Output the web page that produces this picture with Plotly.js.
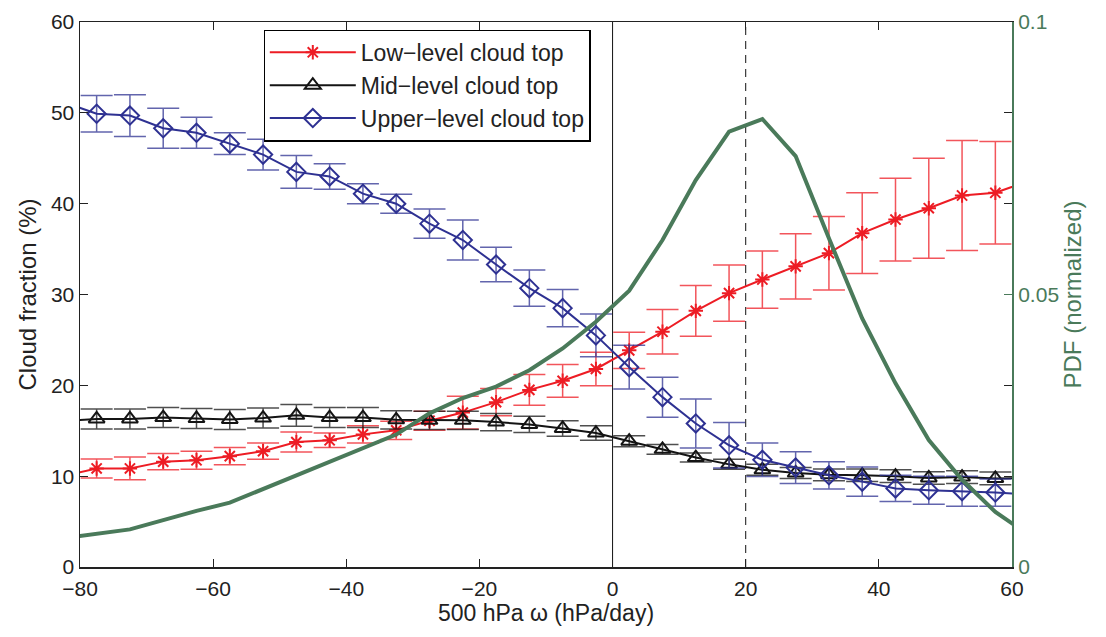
<!DOCTYPE html>
<html>
<head>
<meta charset="utf-8">
<script src="https://cdn.plot.ly/plotly-3.0.1.min.js"></script>
<style>html,body{margin:0;padding:0;background:#fff;}#chart{width:1106px;height:637px;}</style>
</head>
<body>
<div id="chart"></div>
<script>
// omega bins (hPa/day)
const omega = [-82.5,-77.5,-72.5,-67.5,-62.5,-57.5,-52.5,-47.5,-42.5,-37.5,-32.5,-27.5,-22.5,-17.5,-12.5,-7.5,-2.5,2.5,7.5,12.5,17.5,22.5,27.5,32.5,37.5,42.5,47.5,52.5,57.5,62.5];

const lowCloud = [10.0,10.85,10.85,11.6,11.75,12.2,12.75,13.75,13.95,14.6,15.05,16.1,17.0,18.15,19.5,20.5,21.8,23.85,25.9,28.2,30.15,31.65,33.1,34.55,36.75,38.25,39.5,40.9,41.2,42.5];
const lowErr   = [1.2,1.05,1.25,0.9,1.0,0.95,0.9,1.1,0.8,0.95,1.0,1.05,1.8,1.5,1.7,1.8,1.85,2.0,2.45,2.8,3.1,3.15,3.6,4.05,4.45,4.55,5.5,6.05,5.65,6.5];

const midCloud = [16.05,16.3,16.3,16.45,16.35,16.25,16.4,16.7,16.45,16.45,16.2,16.15,16.15,15.95,15.7,15.25,14.75,13.85,12.95,12.05,11.3,10.7,10.35,10.15,10.1,10.0,9.8,9.9,9.75,9.8];
const midErr   = [1.1,1.1,1.1,1.1,1.1,1.1,1.1,1.2,1.1,1.1,1.0,1.0,1.0,0.95,0.9,0.85,0.8,0.6,0.55,0.5,0.55,0.6,0.6,0.65,0.7,0.7,0.7,0.7,0.7,0.7];

const upCloud = [51.2,49.9,49.7,48.3,47.8,46.6,45.4,43.5,43.0,41.1,40.0,37.8,36.0,33.3,30.7,28.5,25.5,22.0,18.7,15.8,13.4,11.8,10.95,10.1,9.4,8.65,8.45,8.35,8.2,8.0];
const upErr   = [2.5,2.0,2.3,2.2,1.7,1.2,1.7,1.8,1.4,1.1,1.05,1.6,2.2,1.9,2.0,2.05,2.35,2.4,2.2,2.7,2.5,1.85,1.75,1.5,1.6,1.45,1.55,1.65,1.5,1.5];

const pdf = [0.0053,0.0061,0.0069,0.0086,0.0103,0.0118,0.0143,0.0168,0.0193,0.0218,0.0243,0.0282,0.0310,0.0331,0.0361,0.0401,0.0450,0.0507,0.0600,0.0710,0.0799,0.0822,0.0754,0.0603,0.0456,0.0337,0.0233,0.0160,0.0101,0.0059];

const xTicks = [-80,-60,-40,-20,0,20,40,60];
const yTicks = [0,10,20,30,40,50,60];
const y2Ticks = [0,0.05,0.1];
const y2TickText = ['0','0.05','0.1'];

const RED = 'rgb(237,28,36)', BLACK = 'rgb(20,20,20)', BLUE = 'rgb(46,49,146)', GREEN = 'rgb(74,122,90)';
const FONT = 'Liberation Sans, Arial, sans-serif';

function series(name, y, err, color, errColor, symbol, size) {
  return {
    x: omega, y: y, name: name, type: 'scatter', mode: 'lines+markers',
    line: {color: color, width: 2},
    marker: {symbol: symbol, size: size, color: color, line: {color: color, width: 2}},
    error_y: {type: 'data', array: err, visible: true, color: errColor, thickness: 1.5, width: 16},
    cliponaxis: true
  };
}

const traces = [
  series('Low\u2212level cloud top', lowCloud, lowErr, RED, 'rgba(237,28,36,0.75)', 'asterisk-open', 12),
  series('Mid\u2212level cloud top', midCloud, midErr, BLACK, 'rgba(20,20,20,0.75)', 'triangle-up-open', 14),
  series('Upper\u2212level cloud top', upCloud, upErr, BLUE, 'rgba(46,49,146,0.75)', 'diamond-open', 14),
  {x: omega, y: pdf, yaxis: 'y2', type: 'scatter', mode: 'lines', showlegend: false,
   line: {color: GREEN, width: 4}, hoverinfo: 'skip'}
];

const layout = {
  width: 1106, height: 637,
  margin: {l: 80, r: 94, t: 22, b: 70},
  paper_bgcolor: '#fff', plot_bgcolor: '#fff',
  font: {family: FONT, size: 20, color: '#222'},
  showlegend: true,
  legend: {x: 0.197, y: 0.986, xanchor: 'left', yanchor: 'top',
           bgcolor: '#fff', bordercolor: '#000', borderwidth: 1.2,
           font: {family: FONT, size: 23, color: '#222'}, tracegroupgap: 0, itemwidth: 86},
  xaxis: {range: [-80, 60], tickvals: xTicks, ticks: 'inside', ticklen: 8, tickcolor: '#222',
          showline: true, linecolor: '#222', linewidth: 1.5, mirror: 'ticks',
          showgrid: false, zeroline: false, tickfont: {size: 21}, ticklabelstandoff: 2,
          title: {text: '500 hPa \u03c9 (hPa/day)', font: {size: 23}, standoff: 3}},
  yaxis: {range: [0, 60], tickvals: yTicks, ticks: 'inside', ticklen: 8, tickcolor: '#222',
          showline: true, linecolor: '#222', linewidth: 1.5, mirror: 'ticks',
          showgrid: false, zeroline: false, tickfont: {size: 21},
          title: {text: 'Cloud fraction (%)', font: {size: 24}, standoff: 7}},
  yaxis2: {range: [0, 0.1], overlaying: 'y', side: 'right', tickvals: y2Ticks, ticktext: y2TickText,
           ticks: 'inside', ticklen: 8, tickcolor: GREEN, showline: true, linecolor: GREEN, linewidth: 2,
           showgrid: false, zeroline: false, tickfont: {size: 21, color: GREEN},
           title: {text: 'PDF (normalized)', font: {size: 24, color: GREEN}, standoff: 5}},
  shapes: [
    {type: 'line', xref: 'x', yref: 'paper', x0: 0, x1: 0, y0: 0, y1: 1, line: {color: '#111', width: 1}, layer: 'below'},
    {type: 'line', xref: 'x', yref: 'paper', x0: 20, x1: 20, y0: 0, y1: 1, line: {color: '#111', width: 1, dash: '8px,6px'}, layer: 'below'}
  ]
};

Plotly.newPlot('chart', traces, layout, {displayModeBar: false, staticPlot: true});
</script>
</body>
</html>
